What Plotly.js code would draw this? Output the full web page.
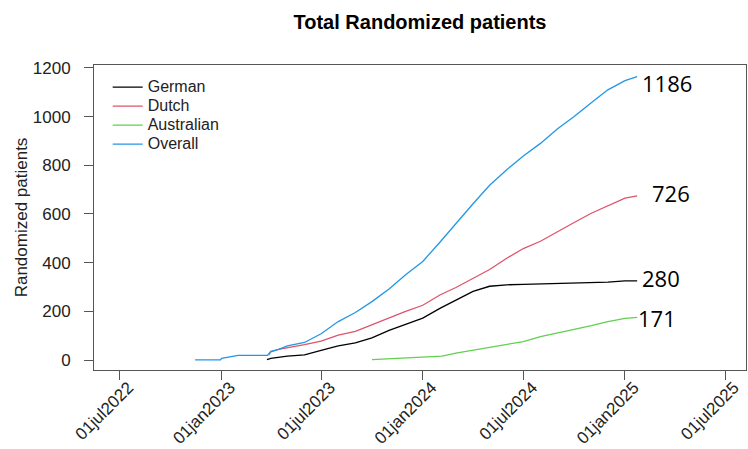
<!DOCTYPE html>
<html>
<head>
<meta charset="utf-8">
<script src="https://cdn.plot.ly/plotly-3.0.1.min.js"></script>
<style>html,body{margin:0;padding:0;background:#fff}#chart{width:748px;height:449px}</style>
</head>
<body>
<div id="chart"></div>
<script>
// Cumulative randomized patients
const germanDates = ["2023-03-25","2023-04-01","2023-05-01","2023-06-01","2023-07-01","2023-08-01","2023-09-01","2023-10-01","2023-11-01","2023-12-01","2024-01-01","2024-02-01","2024-03-01","2024-04-01","2024-05-01","2024-06-01","2024-07-01","2024-08-01","2024-09-01","2024-10-01","2024-11-01","2024-12-01","2025-01-01","2025-01-23"];
const germanValues = [2,7,16,21,40,58,70,91,122,148,172,212,245,282,303,309,311,313,314,318,319,320,325,325];

const dutchDates = ["2023-03-28","2023-04-01","2023-04-15","2023-05-01","2023-06-01","2023-07-01","2023-08-01","2023-09-01","2023-10-01","2023-11-01","2023-12-01","2024-01-01","2024-02-01","2024-03-01","2024-04-01","2024-05-01","2024-06-01","2024-07-01","2024-08-01","2024-09-01","2024-10-01","2024-11-01","2024-12-01","2025-01-01","2025-01-23"];
const dutchValues = [20,33,44,50,63,78,102,118,145,175,200,225,267,298,335,372,418,458,488,528,565,603,632,665,674];

const australianDates = ["2023-10-01","2023-12-05","2024-02-05","2024-03-01","2024-04-01","2024-05-01","2024-06-01","2024-07-01","2024-08-01","2024-09-01","2024-10-01","2024-11-01","2024-12-01","2025-01-01","2025-01-23"];
const australianValues = [2,10,16,28,40,50,64,76,96,110,126,141,158,171,175];

const overallDates = ["2022-11-15","2022-12-31","2023-01-02","2023-01-15","2023-02-01","2023-03-26","2023-04-01","2023-04-15","2023-05-01","2023-06-01","2023-07-01","2023-08-01","2023-09-01","2023-10-01","2023-11-01","2023-12-01","2024-01-01","2024-02-01","2024-03-01","2024-04-01","2024-05-01","2024-06-01","2024-07-01","2024-08-01","2024-09-01","2024-10-01","2024-11-01","2024-12-01","2025-01-01","2025-01-23"];
const overallValues = [1,1,7,12,19,19,36,44,58,72,108,158,195,240,292,350,405,484,562,642,718,782,838,890,950,1000,1057,1110,1148,1164];

const seriesNames = ["German","Dutch","Australian","Overall"];
// final totals written at the right end of each curve
const finalLabels = {German:"280", Dutch:"726", Australian:"171", Overall:"1186"};

const tickDates = ["2022-07-01","2023-01-01","2023-07-01","2024-01-01","2024-07-01","2025-01-01","2025-07-01"];
const tickLabels = ["01jul2022","01jan2023","01jul2023","01jan2024","01jul2024","01jan2025","01jul2025"];
const yTicks = [0,200,400,600,800,1000,1200];

const colors = ["#000000","#DF536B","#61D04F","#2297E6"];
const dates = [germanDates, dutchDates, australianDates, overallDates];
const vals = [germanValues, dutchValues, australianValues, overallValues];

const traces = seriesNames.map((n,i)=>({
  type:"scatter", mode:"lines",
  name:'<span style="font-size:16px">'+n+'</span>',
  x:dates[i], y:vals[i],
  line:{color:colors[i], width:1.3}
}));

const sans = "Liberation Sans, Arial, sans-serif";
const axisFont = {family:sans, size:17, color:"#222"};
const lineCol = "#555";

const labelPos = {Overall:[0.879,0.941], Dutch:[0.885,0.580], German:[0.870,0.302], Australian:[0.863,0.170]};

const layout = {
  width:748, height:449,
  margin:{l:94, r:2, t:65, b:79, pad:0},
  paper_bgcolor:"#fff", plot_bgcolor:"#fff",
  title:{text:"<b>Total Randomized patients</b>", x:0.5, xref:"paper", xanchor:"center",
         y:0.951, yref:"container", yanchor:"middle",
         font:{family:sans, size:20, color:"#000"}},
  showlegend:true,
  legend:{x:0.021, y:0.975, xanchor:"left", yanchor:"top", bgcolor:"rgba(0,0,0,0)",
          font:{family:sans, size:12, color:"#222"},
          tracegroupgap:0, itemwidth:30},
  xaxis:{type:"date", range:["2022-05-16","2025-08-08"], tickmode:"array",
         tickvals:tickDates, ticktext:tickLabels, tickangle:-45,
         ticks:"outside", ticklen:9, tickcolor:lineCol, tickwidth:1,
         showline:true, mirror:true, linecolor:lineCol, linewidth:1,
         showgrid:false, zeroline:false, tickfont:{family:sans, size:17, color:"#222"},
         automargin:false, ticklabelstandoff:-9, ticklabelshift:9},
  yaxis:{range:[-41,1212], tickmode:"array", tickvals:yTicks,
         ticks:"outside", ticklen:9, tickcolor:lineCol, tickwidth:1,
         showline:true, mirror:true, linecolor:lineCol, linewidth:1,
         showgrid:false, zeroline:false, tickfont:axisFont, automargin:false,
         ticklabelstandoff:10,
         title:{text:"Randomized patients", font:{family:sans, size:17, color:"#222"}, standoff:0}},
  annotations: seriesNames.map(n=>({
        text:finalLabels[n], x:labelPos[n][0], y:labelPos[n][1],
        xref:"paper", yref:"paper", xanchor:"center", yanchor:"middle", showarrow:false,
        font:{family:"Open Sans, sans-serif", size:22, color:"#000"}}))
};

Plotly.newPlot("chart", traces, layout, {displayModeBar:false, staticPlot:true});
</script>
</body>
</html>
